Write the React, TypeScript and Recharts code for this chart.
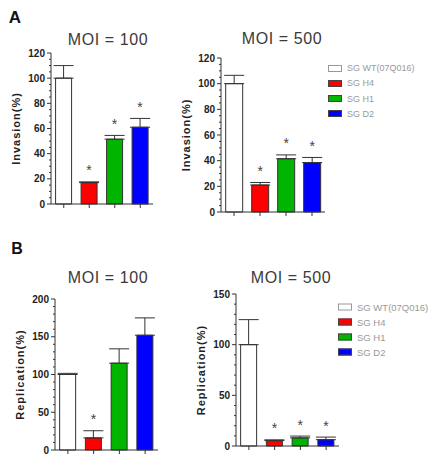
import { BarChart, Bar, XAxis, YAxis, ErrorBar, Cell, LabelList } from 'recharts'

const groups = ['SG WT(07Q016)', 'SG H4', 'SG H1', 'SG D2']
const colors = ['#ffffff', '#ff0000', '#00b400', '#0000ff']

const invasion100 = [100, 17, 51.5, 61]
const invasion100Err = [10, 0.6, 3, 7]
const invasion100Sig = [false, true, true, true]

const invasion500 = [100, 21, 41.5, 38.5]
const invasion500Err = [6.5, 2, 3, 4]
const invasion500Sig = [false, true, true, true]

const replication100 = [100, 16, 115, 152]
const replication100Err = [1.5, 9.5, 19, 23]
const replication100Sig = [false, true, false, false]

const replication500 = [100, 5.3, 8, 6.2]
const replication500Err = [24.7, 0.8, 1.8, 2.6]
const replication500Sig = [false, true, true, true]

const invasionTicks = [0, 20, 40, 60, 80, 100, 120]
const rep100Ticks = [0, 50, 100, 150, 200]
const rep500Ticks = [0, 50, 100, 150]

const FONT = '"Liberation Sans", Arial, sans-serif'
const INK = '#333'

// split each major interval into `parts` minor steps
function withMinor(major: number[], parts: number) {
  const out: number[] = []
  for (let i = 0; i < major.length - 1; i++) {
    const step = (major[i + 1] - major[i]) / parts
    for (let k = 0; k < parts; k++) out.push(major[i] + step * k)
  }
  out.push(major[major.length - 1])
  return out
}

const YTick = ({ y, payload, axisX, major }: any) => {
  const isMajor = major.includes(payload.value)
  return (
    <g>
      <line x1={axisX - (isMajor ? 4 : 2)} x2={axisX} y1={y} y2={y} stroke={INK} strokeWidth={1} />
      {isMajor && (
        <text x={axisX - 6} y={y} dy={3.5} textAnchor="end" fontSize={10} fontWeight="bold" fill="#222" fontFamily={FONT}>
          {payload.value}
        </text>
      )}
    </g>
  )
}

interface PanelProps {
  values: number[]
  errs: number[]
  sig: boolean[]
  ticks: number[]
  minorParts: number
  yLabel: string
  axisX: number
  top: number
  bottom: number
  right: number
}

const YW = 51

function Panel({ values, errs, sig, ticks, minorParts, yLabel, axisX, top, bottom, right }: PanelProps) {
  const data = groups.map((g, i) => ({
    name: g,
    value: values[i],
    err: [0, errs[i]],
    star: sig[i] ? '*' : '',
  }))
  const left = axisX - YW
  const chartTop = top - 25
  const width = right + 10 - left
  const height = bottom - top + 41

  return (
    <div style={{ position: 'absolute', left, top: chartTop }}>
      <BarChart width={width} height={height} data={data} margin={{ top: 25, right: 10, left: 0, bottom: 10 }} barCategoryGap="18%">
        <XAxis
          dataKey="name"
          height={6}
          tickSize={4}
          tickFormatter={() => ''}
          axisLine={{ stroke: INK }}
          tickLine={{ stroke: INK }}
        />
        <YAxis
          width={YW}
          domain={[ticks[0], ticks[ticks.length - 1]]}
          ticks={withMinor(ticks, minorParts)}
          interval={0}
          tickLine={false}
          axisLine={{ stroke: INK }}
          tick={(p: any) => <YTick {...p} axisX={YW} major={ticks} />}
          label={(p: any) => {
            const vb = p.viewBox
            const cx = vb.x + 16
            const cy = vb.y + vb.height / 2
            return (
              <text
                x={cx} y={cy}
                transform={`rotate(-90, ${cx}, ${cy})`}
                textAnchor="middle" dominantBaseline="central"
                fontSize={11} fontWeight="bold" letterSpacing={1}
                fill="#222" fontFamily={FONT}
              >
                {yLabel}
              </text>
            )
          }}
        />
        <Bar dataKey="value" stroke={INK} strokeWidth={1} isAnimationActive={false}>
          {data.map((d, i) => <Cell key={i} fill={colors[i]} />)}
          <ErrorBar dataKey="err" direction="y" width={10} stroke={INK} strokeWidth={1} />
          <LabelList
            dataKey="star"
            content={(p: any) => {
              if (!p.value) return null
              const idx = p.index
              const pxPerUnit = p.height / values[idx]
              const errTop = p.y - errs[idx] * pxPerUnit
              const cy = errTop - 14
              return (
                <text x={p.x + p.width / 2} y={cy + 7.5} textAnchor="middle" fontSize={14} fill="#444" fontFamily={FONT}>
                  *
                </text>
              )
            }}
          />
        </Bar>
      </BarChart>
    </div>
  )
}

function Title({ text, x, y, size = 16, bold = false }: { text: string; x: number; y: number; size?: number; bold?: boolean }) {
  return (
    <div
      style={{
        position: 'absolute', left: x, top: y, transform: 'translate(-50%, -50%)',
        fontFamily: FONT, fontSize: size, fontWeight: bold ? 'bold' : 'normal',
        color: bold ? '#111' : '#3a3a3a', whiteSpace: 'nowrap', letterSpacing: bold ? 0 : 0.6,
      }}
    >
      {text}
    </div>
  )
}

function GroupLegend({ x, y, gap, fontSize }: { x: number; y: number; gap: number; fontSize: number }) {
  return (
    <div style={{ position: 'absolute', left: x, top: y }}>
      {groups.map((g, i) => (
        <div key={g} style={{ position: 'absolute', left: 0, top: i * gap, display: 'flex', alignItems: 'center', transform: 'translateY(-50%)' }}>
          <div style={{ width: 12, height: 5, background: colors[i], border: `1px solid ${i === 0 ? '#999' : '#444'}` }} />
          <span style={{ marginLeft: 5, fontFamily: FONT, fontSize, color: '#999', whiteSpace: 'nowrap' }}>{g}</span>
        </div>
      ))}
    </div>
  )
}

export default function App() {
  return (
    <div style={{ position: 'absolute', left: 0, top: 0, width: 435, height: 461, background: '#fff', overflow: 'hidden' }}>
      <Title text="A" x={15} y={17.5} size={17} bold />
      <Title text="B" x={17} y={249} size={16} bold />

      <Title text="MOI = 100" x={108} y={40} />
      <Title text="MOI = 500" x={282} y={39} />
      <Title text="MOI = 100" x={108} y={278} />
      <Title text="MOI = 500" x={291} y={278} />

      <Panel values={invasion100} errs={invasion100Err} sig={invasion100Sig} ticks={invasionTicks} minorParts={4}
        yLabel="Invasion(%)" axisX={51} top={53} bottom={204} right={153} />
      <Panel values={invasion500} errs={invasion500Err} sig={invasion500Sig} ticks={invasionTicks} minorParts={4}
        yLabel="Invasion(%)" axisX={221} top={58} bottom={212} right={325} />
      <Panel values={replication100} errs={replication100Err} sig={replication100Sig} ticks={rep100Ticks} minorParts={5}
        yLabel="Replication(%)" axisX={55} top={299} bottom={450} right={158} />
      <Panel values={replication500} errs={replication500Err} sig={replication500Sig} ticks={rep500Ticks} minorParts={5}
        yLabel="Replication(%)" axisX={236} top={294} bottom={446} right={339} />

      <GroupLegend x={328} y={68} gap={15.3} fontSize={9} />
      <GroupLegend x={338} y={307} gap={15} fontSize={9.5} />
    </div>
  )
}
